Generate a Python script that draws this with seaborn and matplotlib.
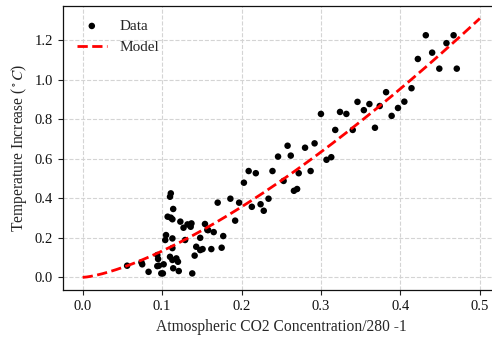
import numpy as np
import pandas as pd
import matplotlib
matplotlib.use("Agg")
import matplotlib.pyplot as plt
import seaborn as sns

co2_ratio = [
    0.056, 0.074, 0.075, 0.083, 0.094, 0.095, 0.094, 0.096, 0.099, 0.101,
    0.102, 0.104, 0.105, 0.111, 0.110, 0.114, 0.107, 0.111, 0.113, 0.123,
    0.127, 0.132, 0.136, 0.113, 0.113, 0.129, 0.110, 0.113, 0.118, 0.114,
    0.120, 0.121, 0.138, 0.141, 0.143, 0.148, 0.148, 0.157, 0.137, 0.154,
    0.158, 0.165, 0.177, 0.151, 0.162, 0.175, 0.170, 0.186, 0.197, 0.192,
    0.203, 0.209, 0.218, 0.213, 0.224, 0.228, 0.234, 0.239, 0.246, 0.253,
    0.258, 0.262, 0.266, 0.270, 0.272, 0.280, 0.287, 0.292, 0.300, 0.307,
    0.313, 0.318, 0.324, 0.332, 0.340, 0.346, 0.354, 0.361, 0.368, 0.374,
    0.382, 0.389, 0.397, 0.405, 0.414, 0.422, 0.432, 0.440, 0.449, 0.458,
    0.467, 0.471,
]
temp_increase = [
    0.059, 0.076, 0.066, 0.028, 0.113, 0.093, 0.057, 0.059, 0.020, 0.020,
    0.066, 0.189, 0.214, 0.425, 0.408, 0.346, 0.307, 0.302, 0.294, 0.282,
    0.251, 0.268, 0.256, 0.197, 0.148, 0.189, 0.104, 0.088, 0.096, 0.046,
    0.079, 0.032, 0.020, 0.110, 0.155, 0.138, 0.200, 0.240, 0.273, 0.270,
    0.239, 0.229, 0.209, 0.143, 0.143, 0.150, 0.378, 0.398, 0.378, 0.287,
    0.479, 0.538, 0.527, 0.357, 0.370, 0.337, 0.398, 0.538, 0.611, 0.488,
    0.666, 0.616, 0.438, 0.447, 0.527, 0.656, 0.538, 0.678, 0.827, 0.595,
    0.608, 0.746, 0.837, 0.827, 0.746, 0.888, 0.846, 0.877, 0.757, 0.867,
    0.937, 0.817, 0.857, 0.889, 0.957, 1.105, 1.225, 1.137, 1.056, 1.185,
    1.225, 1.056,
]

# model: power law fitted by eye to the dashed curve
model_coef = 3.505
model_power = 1.42
model_x = np.linspace(0.0, 0.5, 200)
model_y = model_coef * model_x ** model_power

obs = pd.DataFrame({"x": co2_ratio, "y": temp_increase})
model = pd.DataFrame({"x": model_x, "y": model_y})

sns.set_style("ticks")
plt.rcParams["font.family"] = ["Liberation Serif", "DejaVu Serif"]
plt.rcParams["mathtext.fontset"] = "stix"

fig = plt.figure(figsize=(4.92, 3.38), dpi=100)
ax = fig.add_axes([0.1276, 0.1411, 0.888, 0.8426])

sns.scatterplot(data=obs, x="x", y="y", ax=ax, color="black", s=22,
                edgecolor="none", label="Data", zorder=3)
sns.lineplot(data=model, x="x", y="y", ax=ax, color="red", linewidth=2,
             linestyle="--", label="Model", zorder=4)

ax.set_xlim(-0.025, 0.525)
ax.set_ylim(-0.0655, 1.3755)
ax.set_xticks([0.0, 0.1, 0.2, 0.3, 0.4, 0.5])
ax.set_yticks([0.0, 0.2, 0.4, 0.6, 0.8, 1.0, 1.2])
ax.grid(True, linestyle="--", color="#d4d4d4", linewidth=0.8)
ax.set_axisbelow(True)
ax.tick_params(labelsize=10.5, length=3.5, width=0.8, color="#222222",
               labelcolor="#111111")
for sp in ax.spines.values():
    sp.set_color("#111111")
    sp.set_linewidth(0.9)

ax.set_xlabel("Atmospheric CO2 Concentration/280 -1", fontsize=11.2)
ax.set_ylabel(r"Temperature Increase ($^\circ C$)", fontsize=11.2)
ax.legend(loc="upper left", frameon=False, fontsize=11, handlelength=2.0,
          borderaxespad=0.5)

fig.savefig("out.png", dpi=100)
